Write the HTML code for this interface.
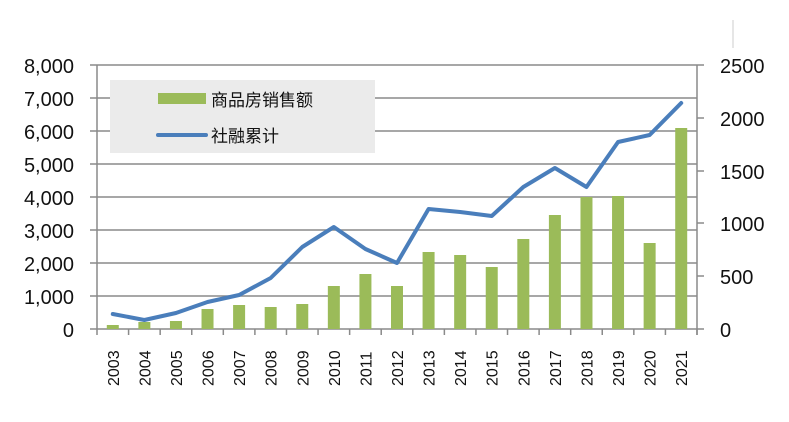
<!DOCTYPE html>
<html><head><meta charset="utf-8"><style>
body{margin:0;background:#fff;}
svg text{font-family:"Liberation Sans","Noto Sans CJK SC",sans-serif;fill:#111;}
</style></head><body>
<svg width="789" height="417" viewBox="0 0 789 417" xmlns="http://www.w3.org/2000/svg">
<rect width="789" height="417" fill="#fff"/>
<line x1="733" y1="20" x2="733" y2="48" stroke="#ccc" stroke-width="1"/>
<g stroke="#8a8a8a" stroke-width="1.5">
<line x1="90" y1="65" x2="704" y2="65"/>
<line x1="90" y1="98" x2="697" y2="98"/>
<line x1="90" y1="131" x2="697" y2="131"/>
<line x1="90" y1="164" x2="697" y2="164"/>
<line x1="90" y1="197" x2="697" y2="197"/>
<line x1="90" y1="230" x2="697" y2="230"/>
<line x1="90" y1="263" x2="697" y2="263"/>
<line x1="90" y1="296" x2="697" y2="296"/>
<line x1="90" y1="329" x2="704" y2="329"/>
<line x1="97" y1="65" x2="97" y2="335"/>
<line x1="697" y1="65" x2="697" y2="335"/>
<line x1="697" y1="118" x2="704" y2="118"/>
<line x1="697" y1="171" x2="704" y2="171"/>
<line x1="697" y1="223" x2="704" y2="223"/>
<line x1="697" y1="276" x2="704" y2="276"/>
</g>
<g stroke="#8a8a8a" stroke-width="1.5" id="xt"></g>
<rect x="110" y="80" width="265" height="73" fill="#ebebeb"/>
<rect x="158" y="93" width="48" height="11" fill="#9bbb59"/>
<line x1="158" y1="135" x2="206" y2="135" stroke="#4a7ebb" stroke-width="4" stroke-linecap="round"/>
<text x="211" y="106" font-size="17">商品房销售额</text>
<text x="211" y="142" font-size="17">社融累计</text>
<g fill="#9bbb59" id="bars"></g>
<polyline id="ln" fill="none" stroke="#4a7ebb" stroke-width="4" stroke-linejoin="round" stroke-linecap="round" points=""/>
<g font-size="20" text-anchor="end">
<text x="74" y="73">8,000</text><text x="74" y="106">7,000</text><text x="74" y="139">6,000</text>
<text x="74" y="172">5,000</text><text x="74" y="205">4,000</text><text x="74" y="238">3,000</text>
<text x="74" y="271">2,000</text><text x="74" y="304">1,000</text><text x="74" y="337">0</text>
</g>
<g font-size="20">
<text x="720" y="73">2500</text><text x="720" y="126">2000</text><text x="720" y="179">1500</text>
<text x="720" y="231">1000</text><text x="720" y="284">500</text><text x="720" y="337">0</text>
</g>
<g id="yl" font-size="16"></g>
</svg>
<script>
var bt=[325,322,321,309,305,307,304,286,274,286,252,255,267,239,215,197,196,243,128];
var lt=[314,320,313,302,295,278,247,227,249,263,209,212,216,187,168,187,142,135,103];
var ns="http://www.w3.org/2000/svg",w=600/19,pts=[];
var b=document.getElementById("bars"),y=document.getElementById("yl"),xt=document.getElementById("xt");
for(var i=0;i<19;i++){var c=97+w*(i+0.5);
var r=document.createElementNS(ns,"rect");r.setAttribute("x",c-6);r.setAttribute("y",bt[i]);r.setAttribute("width",12);r.setAttribute("height",329-bt[i]);b.appendChild(r);
pts.push(c+","+lt[i]);
var t=document.createElementNS(ns,"text");t.setAttribute("transform","translate("+(c+6)+",386) rotate(-90)");t.textContent=2003+i;y.appendChild(t);
var l=document.createElementNS(ns,"line");var xx=97+w*(i+1);l.setAttribute("x1",xx);l.setAttribute("x2",xx);l.setAttribute("y1",329);l.setAttribute("y2",335);xt.appendChild(l);}
document.getElementById("ln").setAttribute("points",pts.join(" "));
</script>
</body></html>
